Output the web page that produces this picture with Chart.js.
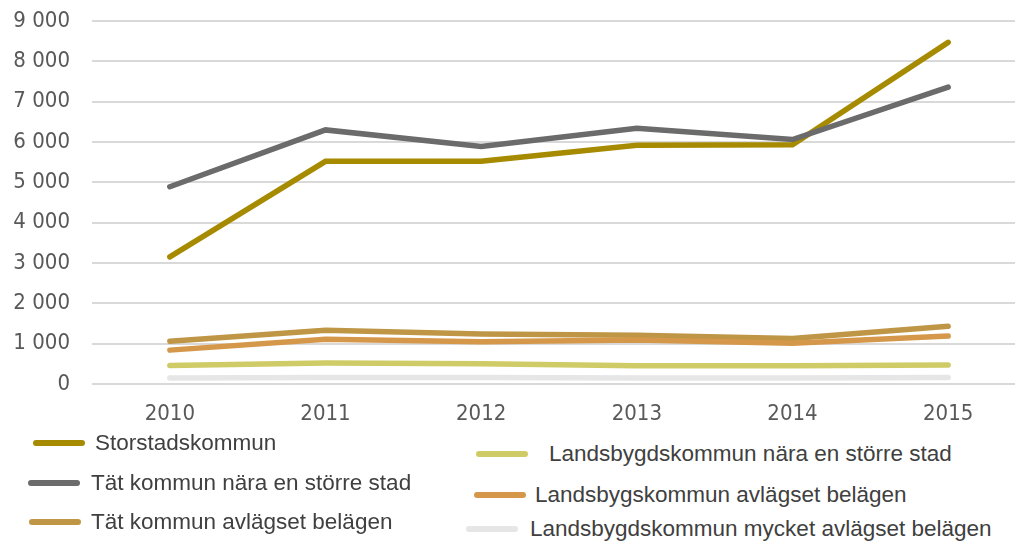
<!DOCTYPE html>
<html>
<head>
<meta charset="utf-8">
<script src="https://cdn.jsdelivr.net/npm/chart.js@4/dist/chart.umd.min.js"></script>
<style>
  html, body { margin: 0; padding: 0; background: #fff; overflow: hidden; }
  #wrap { position: relative; width: 1015px; height: 543px; overflow: hidden; }
  #box { position: absolute; left: 0; top: 0; width: 1026px; height: 440px; }
  .leg { position: absolute; display: flex; align-items: center; white-space: nowrap;
         font-family: "Liberation Sans", "DejaVu Sans", sans-serif;
         font-size: 22.5px; color: #404040; }
  .leg i { display: inline-block; width: 52px; height: 6px; border-radius: 3px; }
</style>
</head>
<body>
<div id="wrap">
  <div id="box"><canvas id="grafico"></canvas></div>
</div>
<script>
// data
const years = ['2010', '2011', '2012', '2013', '2014', '2015'];
const seriesNames = [
  'Storstadskommun',
  'Tät kommun nära en större stad',
  'Tät kommun avlägset belägen',
  'Landsbygdskommun nära en större stad',
  'Landsbygskommun avlägset belägen',
  'Landsbygdskommun mycket avlägset belägen'
];
const storstad = [3150, 5520, 5520, 5920, 5930, 8470];
const tatNara = [4890, 6300, 5890, 6340, 6060, 7360];
const tatAvlagset = [1060, 1330, 1240, 1210, 1130, 1430];
const landsNara = [460, 520, 500, 450, 450, 470];
const landsAvlagset = [840, 1110, 1050, 1090, 1010, 1190];
const landsMycket = [150, 160, 160, 150, 150, 160];
const yTicks = [0, 1000, 2000, 3000, 4000, 5000, 6000, 7000, 8000, 9000];

const allData = [storstad, tatNara, tatAvlagset, landsNara, landsAvlagset, landsMycket];
const colores = ['#A68A00', '#6B6B6B', '#BE9646', '#CFCB66', '#D5984A', '#E6E6E6'];

// legend positions (left x of swatch, center y, gap to text)
const legPos = [
  [33, 443, 10], [28, 483, 11], [29, 522, 10],
  [476, 454, 21], [474, 495, 9], [466, 529, 12]
];

const wrap = document.getElementById('wrap');
seriesNames.forEach((n, i) => {
  let d = document.createElement('div');
  d.className = 'leg';
  d.style.left = legPos[i][0] + 'px';
  d.style.top = (legPos[i][1] - 14) + 'px';
  d.style.height = '28px';
  d.innerHTML = '<i style="background:' + colores[i] + ';margin-right:' + legPos[i][2] + 'px"></i><span>' + n + '</span>';
  wrap.appendChild(d);
});

const fmt = (v) => String(v).replace(/\B(?=(\d{3})+(?!\d))/g, ' ');
const tickFont = { family: '"DejaVu Sans Condensed", "DejaVu Sans", sans-serif', size: 22 };

let ctx = document.getElementById('grafico').getContext('2d');
let grafico = new Chart(ctx, {
  type: 'line',
  data: {
    labels: years,
    datasets: allData.map((d, i) => ({
      label: seriesNames[i],
      data: d,
      borderColor: colores[i],
      backgroundColor: colores[i],
      borderWidth: 5.5,
      borderCapStyle: 'round',
      pointRadius: 0,
      tension: 0,
      order: allData.length - i
    }))
  },
  options: {
    responsive: true,
    maintainAspectRatio: false,
    animation: false,
    layout: { padding: { top: 21, right: 0, bottom: 0, left: 0 } },
    plugins: { legend: { display: false }, tooltip: { enabled: false } },
    scales: {
      x: {
        offset: true,
        grid: { display: false, drawTicks: false },
        border: { display: false },
        ticks: { color: '#595959', padding: 17, font: tickFont },
        afterFit: (s) => { s.height = 56; s.paddingLeft = 0; s.paddingRight = 0; }
      },
      y: {
        min: 0,
        max: 9000,
        afterBuildTicks: (s) => { s.ticks = yTicks.map(v => ({ value: v })); },
        grid: { color: '#D9D9D9', lineWidth: 2, drawTicks: false },
        border: { display: false },
        ticks: { color: '#595959', padding: 22, font: tickFont, callback: (v) => fmt(v) },
        afterFit: (s) => { s.width = 92; s.paddingTop = 0; s.paddingBottom = 0; }
      }
    }
  }
});
</script>
</body>
</html>
